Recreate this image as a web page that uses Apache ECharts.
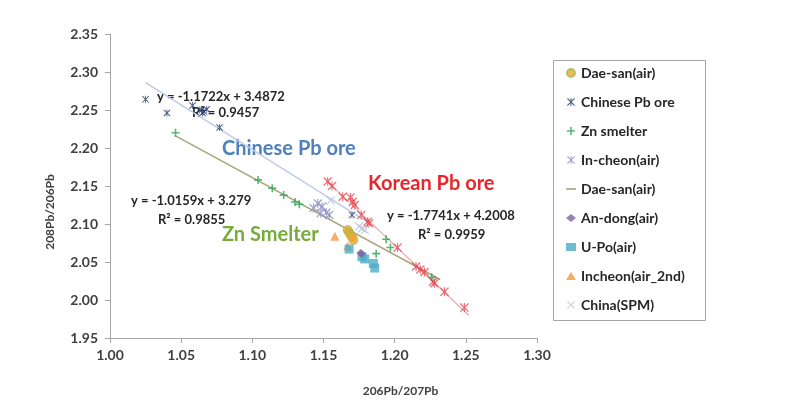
<!DOCTYPE html>
<html><head><meta charset="utf-8">
<script src="https://cdn.jsdelivr.net/npm/echarts@6/dist/echarts.min.js"></script>
<style>html,body{margin:0;padding:0;background:#fff}#c{width:789px;height:411px}</style>
</head><body><div id="c"></div>
<script>
// ---- data ----
const daesanAir = [[1.167,2.092],[1.168,2.089],[1.169,2.086],[1.170,2.083],[1.171,2.079]];
const chinesePbOre = [[1.025,2.264],[1.040,2.246],[1.058,2.256],[1.063,2.250],[1.066,2.248],[1.068,2.251],[1.065,2.246],[1.077,2.227],[1.170,2.112]];
const znSmelter = [[1.046,2.220],[1.104,2.158],[1.114,2.147],[1.122,2.138],[1.130,2.129],[1.133,2.126],[1.187,2.061],[1.194,2.080],[1.197,2.069],[1.226,2.030]];
const incheonAir = [[1.143,2.121],[1.146,2.127],[1.149,2.123],[1.148,2.114],[1.152,2.115],[1.154,2.112]];
const daesanTrend = [[1.046,2.216],[1.232,2.027]];
const andongAir = [[1.176,2.062],[1.177,2.061]];
const upoAir = [[1.168,2.067],[1.177,2.057],[1.179,2.054],[1.185,2.048],[1.186,2.042]];
const incheon2nd = [[1.158,2.084],[1.167,2.071]];
const chinaSPM = [[1.155,2.131],[1.175,2.097],[1.177,2.094],[1.179,2.092]];
const koreanPbOre = [[1.153,2.156],[1.156,2.150],[1.1635,2.136],[1.169,2.135],[1.1705,2.129],[1.172,2.125],[1.1765,2.112],[1.181,2.103],[1.182,2.101],[1.202,2.069],[1.215,2.044],[1.218,2.040],[1.221,2.037],[1.227,2.024],[1.228,2.022],[1.235,2.011],[1.249,1.990]];
const chineseTrend = [[1.025,2.286],[1.185,2.098]];
const koreanTrend = [[1.152,2.157],[1.252,1.980]];
const legendNames = ['Dae-san(air)','Chinese Pb ore','Zn smelter','In-cheon(air)','Dae-san(air) ','An-dong(air)','U-Po(air)','Incheon(air_2nd)','China(SPM)'];
const xTicks = {min:1.00, max:1.30, step:0.05};
const yTicks = {min:1.95, max:2.35, step:0.05};

const X = 'path://M1,0L5,4L9,0L10,1L6,5L10,9L9,10L5,6L1,10L0,9L4,5L0,1Z';
const STAR = 'path://M1,0L5,4L9,0L10,1L6,5L10,9L9,10L5,6L1,10L0,9L4,5L0,1ZM4.4,0H5.6V10H4.4Z';
const PLUS = 'path://M4,0H6V4H10V6H6V10H4V6H0V4H4Z';
const DASH = 'path://M0,4.2H10V5.8H0Z';
const F = 'Lato';

const chart = echarts.init(document.getElementById('c'), null, {renderer:'canvas'});
const txt = (x,y,t,size,color) => ({type:'text', left:x, top:y, style:{text:t, font:`bold ${size}px ${F}`, fill:color}});
chart.setOption({
  animation:false,
  backgroundColor:'#fff',
  grid:{left:110, right:252, top:34, bottom:73},
  xAxis:{type:'value', min:xTicks.min, max:xTicks.max, interval:xTicks.step,
    axisLine:{lineStyle:{color:'#a6a6a6'}}, axisTick:{length:5, lineStyle:{color:'#a6a6a6'}},
    splitLine:{show:false},
    axisLabel:{formatter:v=>v.toFixed(2), color:'#404040', fontFamily:F, fontWeight:'bold', fontSize:14, margin:10},
    name:'206Pb/207Pb', nameLocation:'middle', nameGap:47,
    nameTextStyle:{color:'#404040', fontFamily:F, fontWeight:'bold', fontSize:12, padding:[0,0,0,154]}},
  yAxis:{type:'value', min:yTicks.min, max:yTicks.max, interval:yTicks.step,
    axisLine:{show:true, lineStyle:{color:'#a6a6a6'}}, axisTick:{show:true, length:5, lineStyle:{color:'#a6a6a6'}},
    splitLine:{show:false},
    axisLabel:{formatter:v=>v.toFixed(2), color:'#404040', fontFamily:F, fontWeight:'bold', fontSize:14, margin:12},
    name:'208Pb/206Pb', nameLocation:'middle', nameGap:54,
    nameTextStyle:{color:'#404040', fontFamily:F, fontWeight:'bold', fontSize:12, padding:[0,52,0,0]}},
  legend:{orient:'vertical', left:561, top:61, itemWidth:10, itemHeight:8, itemGap:15,
    data:legendNames.map(n => n === 'Dae-san(air) ' ? {name:n, icon:DASH} : n), formatter:n=>n.trim(), selectedMode:false,
    textStyle:{color:'#262626', fontFamily:F, fontWeight:'bold', fontSize:14, lineHeight:14}},
  graphic:[
    {type:'rect', left:551, top:58, shape:{width:152, height:260}, style:{fill:'none', stroke:'#a6a6a6', lineWidth:1}, z:-1},
    txt(157,90,'y = -1.1722x + 3.4872',13,'#262626'),
    txt(192,106,'R² = 0.9457',13,'#262626'),
    txt(222,139,'Chinese Pb ore',20,'#4f81bd'),
    txt(131,194,'y = -1.0159x + 3.279',13,'#262626'),
    txt(158,213,'R² = 0.9855',13,'#262626'),
    txt(222,225,'Zn Smelter',20,'#77ab3c'),
    txt(368,174,'Korean Pb ore',20,'#e8262b'),
    txt(387,209,'y = -1.7741x + 4.2008',13,'#262626'),
    txt(418,228,'R² = 0.9959',13,'#262626')
  ],
  series:[
    {name:'Chinese trend', type:'line', data:chineseTrend, symbol:'none', lineStyle:{color:'#bccbe8', width:1.5}, z:1},
    {name:'Dae-san(air) ', type:'line', data:daesanTrend, symbol:'none', lineStyle:{color:'#aaa67a', width:1.5}, itemStyle:{color:'#aaa67a'}, z:1},
    {name:'Korean trend', type:'line', data:koreanTrend, symbol:'none', lineStyle:{color:'#eba7ad', width:1.2}, z:1},
    {name:'Korean Pb ore', type:'scatter', data:koreanPbOre, symbol:STAR, symbolSize:9, itemStyle:{color:'#e8464f'}, z:3},
    {name:'Zn smelter', type:'scatter', data:znSmelter, symbol:PLUS, symbolSize:8, itemStyle:{color:'#2fa152'}, z:3},
    {name:'In-cheon(air)', type:'scatter', data:incheonAir, symbol:STAR, symbolSize:9, itemStyle:{color:'#8d8fc0'}, z:3},
    {name:'China(SPM)', type:'scatter', data:chinaSPM, symbol:X, symbolSize:9, itemStyle:{color:'#b9c3e2'}, z:3},
    {name:'Chinese Pb ore', type:'scatter', data:chinesePbOre, symbol:STAR, symbolSize:7, itemStyle:{color:'#1f3864'}, z:4},
    {name:'Incheon(air_2nd)', type:'scatter', data:incheon2nd, symbol:'triangle', symbolSize:9, itemStyle:{color:'#f79646'}, z:4},
    {name:'U-Po(air)', type:'scatter', data:upoAir, symbol:'rect', symbolSize:9, itemStyle:{color:'#4bacc6'}, z:4},
    {name:'An-dong(air)', type:'scatter', data:andongAir, symbol:'diamond', symbolSize:8, itemStyle:{color:'#7f64a2'}, z:5},
    {name:'Dae-san(air)', type:'scatter', data:daesanAir, symbol:'circle', symbolSize:9, itemStyle:{color:'#f5a42a', borderColor:'#9bbb59', borderWidth:1}, z:5}
  ]
});
</script></body></html>
